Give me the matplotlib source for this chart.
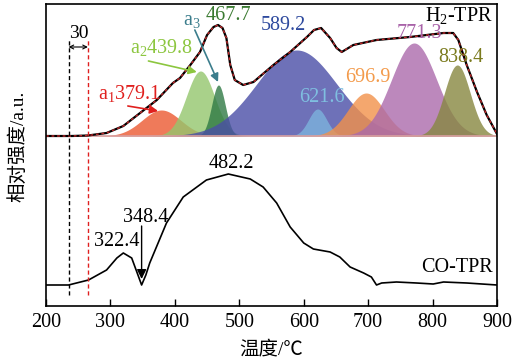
import numpy as np
import matplotlib.pyplot as plt

plt.rcParams['font.family'] = ['Liberation Serif', 'Noto Sans CJK SC']
plt.rcParams['mathtext.fontset'] = 'custom'
plt.rcParams['mathtext.rm'] = 'Liberation Serif'
plt.rcParams['mathtext.it'] = 'Liberation Serif:italic'

# H2-TPR measured envelope (temperature, height above its baseline)
h2_temp = [200, 240, 265, 294, 320, 346, 372, 397, 408, 424, 439, 450, 460, 467, 474,
           480, 486, 493, 506, 522, 553, 579, 605, 616, 627, 641, 651, 659, 677, 713,
           765, 817, 832, 840, 853, 869, 884, 900]
h2_height = [0, 0, 0.5, 3, 10, 23, 36, 53, 58, 71, 84, 101, 109, 111, 108,
             98, 71, 56, 51, 54, 71, 84, 99, 106, 108, 98, 88, 84, 91, 96,
             99, 103, 103, 96, 71, 44, 21, 2]
h2_base = 170

# CO-TPR curve
co_temp = [200, 235, 266, 294, 310, 320, 333, 341, 348.4, 355, 361, 387, 413, 449, 483,
           517, 537, 558, 579, 600, 615, 641, 656, 672, 693, 705, 713, 721, 744, 775,
           801, 817, 853, 900]
co_signal = [21, 21, 26, 36, 48, 53, 48, 34, 21, 31, 43, 83, 109, 126, 132,
             127, 119, 103, 79, 63, 57, 54, 49, 39, 33, 29, 21, 23, 24, 23,
             22, 24, 23, 21]

# fitted components: centre, height, width
peak_center = [379.1, 439.8, 467.7, 589.2, 621.6, 696.9, 771.3, 838.4]
peak_height = [26, 65, 51, 86, 27, 43, 93, 71]
peak_sigma = [30, 22, 10.5, 62, 14, 28, 35, 20]
peak_fill = ['#eb5931', '#94c66d', '#2f7a45', '#4a4ea6', '#7db3dd',
             '#f2914a', '#ab6aab', '#878740']

fig = plt.figure(figsize=(5.25, 3.62), dpi=100)
ax = fig.add_axes([46/525, 1-306/362, 451/525, 302/362])

t = np.linspace(200, 900, 1401)
for c, h, s, col in zip(peak_center, peak_height, peak_sigma, peak_fill):
    g = h * np.exp(-(t - c)**2 / (2 * s**2))
    ax.fill_between(t, h2_base, h2_base + g, color=col, alpha=0.8, lw=0)

ax.axhline(h2_base, color='#d8a0a0', lw=1.2)
h2 = np.array(h2_height) + h2_base
ax.plot(h2_temp, h2, color='black', lw=1.6)
ax.plot(h2_temp, h2, color='#c0282a', lw=1.0, ls=(0, (2, 2)))
ax.plot(co_temp, co_signal, color='black', lw=1.2)

# 30 degree offset marker
ax.plot([235, 235], [11, 266], color='black', lw=1, ls=(0, (3, 2)))
ax.plot([265, 265], [11, 266], color='#e02020', lw=1, ls=(0, (3, 2)))
ax.annotate('', xy=(235, 259), xytext=(265, 259),
            arrowprops=dict(arrowstyle='<->', lw=0.8, color='black', shrinkA=0, shrinkB=0,
                            mutation_scale=7))
ax.text(251, 273, '30', ha='center', va='center', fontsize=14)

fs = 14.5
ax.text(330, 212, r'a$_1$379.1', color='#e0201e', ha='center', va='center', fontsize=fs)
ax.annotate('', xy=(374, 195), xytext=(327, 200),
            arrowprops=dict(arrowstyle='-|>', color='#e0201e', lw=1.2, mutation_scale=12,
                            shrinkA=0, shrinkB=0))
ax.text(380, 258, r'a$_2$439.8', color='#8cc63f', ha='center', va='center', fontsize=fs)
ax.annotate('', xy=(434, 234), xytext=(359, 245),
            arrowprops=dict(arrowstyle='-|>', color='#8cc63f', lw=1.2, mutation_scale=12,
                            shrinkA=0, shrinkB=0))
ax.text(427, 285, r'a$_3$', color='#3b7d8c', ha='center', va='center', fontsize=fs)
ax.annotate('', xy=(467, 224), xytext=(431, 276),
            arrowprops=dict(arrowstyle='-|>', color='#3b7d8c', lw=1.2, mutation_scale=12,
                            shrinkA=0, shrinkB=0))
ax.text(482.5, 291, '467.7', color='#3a7a30', ha='center', va='center', fontsize=fs)
ax.text(568, 281, '589.2', color='#2e4a9e', ha='center', va='center', fontsize=fs)
ax.text(628, 208, '621.6', color='#7fbfe0', ha='center', va='center', fontsize=fs)
ax.text(700, 228, '696.9', color='#f39a4a', ha='center', va='center', fontsize=fs)
ax.text(780, 273, '771.3', color='#a862a8', ha='center', va='center', fontsize=fs)
ax.text(844, 249, '838.4', color='#7b7b1e', ha='center', va='center', fontsize=fs)
ax.text(894, 291, r'H$_2$-TPR', color='black', ha='right', va='center', fontsize=fs)

ax.text(894, 38, 'CO-TPR', color='black', ha='right', va='center', fontsize=fs)
ax.text(487, 143, '482.2', color='black', ha='center', va='center', fontsize=fs)
ax.text(355, 88, '348.4', color='black', ha='center', va='center', fontsize=fs)
ax.text(310, 64, '322.4', color='black', ha='center', va='center', fontsize=fs)
ax.annotate('', xy=(348.4, 27), xytext=(348.4, 80),
            arrowprops=dict(arrowstyle='-|>', color='black', lw=1, mutation_scale=14,
                            shrinkA=0, shrinkB=0))

ax.set_xlim(200, 900)
ax.set_ylim(0, 302)
ax.set_xticks(range(200, 901, 100))
ax.tick_params(axis='x', direction='in', length=5, width=1, labelsize=14.5, pad=5, top=False)
ax.tick_params(axis='y', left=False, labelleft=False)
for sp in ax.spines.values():
    sp.set_linewidth(1.2)

fig.text(271.5/525, 1-349/362, '温度/℃', ha='center', va='center', fontsize=14)
fig.text(18/525, 1-146/362, '相对强度/a.u.', ha='center', va='center', rotation=90, fontsize=14)

fig.savefig('out.png', dpi=100)
